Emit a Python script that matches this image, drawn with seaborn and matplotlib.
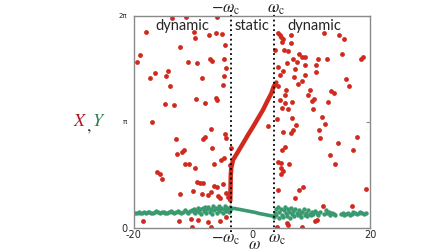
import matplotlib.pyplot as plt
import numpy as np
import seaborn as sns

sns.set_style('white')
plt.rcParams['mathtext.fontset'] = 'stix'

red = '#d02a1e'
green = '#3a9a6f'
omega_c = 3.6

# X in the dynamic (unlocked) regime: scattered points
x_dyn_w = [-17.92, -13.54, -11.17, -12.19, -18.94, -19.44, -10.89, -14.26, -16.41, -17.35, -14.65, -13.97, -14.82, -13.25,
           -6.04, -9.87, -9.65, -7.34, -6.21, -5.15, -4.64, -9.42, -7.17, -6.72, -4.81, -4.47, -8.41, -4.69, -4.93,
           -9.54, -8.07, -6.16, -5.94,
           4.42, 4.69, 4.86, 5.27, 5.10, 6.55, 6.55, 3.85, 5.43, 5.99, 7.97, 8.47, 8.91, 6.95, 5.82, 7.51, 4.42,
           5.27, 8.91, 7.22, 10.72, 4.69, 8.91, 7.12, 8.35, 7.68, 4.30, 5.70, 5.54, 9.76, 9.37, 10.16, 4.69, 5.54,
           6.67, 4.98, 5.99, 4.14,
           12.19, 14.65, 15.49, 15.11, 18.36, 18.77, 11.05, 12.57, 10.72, 15.83, 16.34, 13.30, 13.87, 12.86, 10.50,
           10.33, 11.73,
           -16.96, -12.96, -11.56, -11.90, -12.69, -11.34, -10.77, -16.07, -15.66, -15.22, -12.29, -18.48, -12.46,
           -10.16, -10.33,
           -6.89, -8.02, -8.30, -4.64, -4.47, -6.72, -3.51, -4.81, -5.20, -6.50, -9.70, -3.80, -9.32, -8.86, -8.30,
           -6.50, -6.04, -4.93, -8.57, -7.46, -7.05, -5.77, -5.49, -4.35, -4.08, -10.09, -9.15, -7.46, -5.49, -4.35,
           -6.89,
           2.62, 6.67, 7.34, 6.95, 6.55, 5.27, 5.54, 5.10, 4.30, 4.86, 6.21, 4.86, 5.27, 4.86, 4.30, 8.64, 7.90,
           7.22, 5.82, 6.11, 4.14, 8.35, 10.89,
           12.29, 11.27, 11.44, 17.64, 14.43, 17.08, 13.13, 13.97, 19.32, 12.02, 16.79, 10.60]
x_dyn_val = [5.82, 6.22, 6.25, 5.36, 5.13, 4.93, 4.93, 4.65, 4.59, 4.45, 4.51, 4.21, 3.68, 3.65,
             6.26, 5.82, 5.62, 5.72, 5.79, 5.75, 5.42, 4.88, 5.00, 4.95, 5.00, 4.73, 4.44, 4.51, 4.25,
             3.81, 3.70, 3.86, 3.79,
             5.79, 5.72, 5.65, 5.59, 5.52, 5.72, 5.49, 5.26, 5.26, 5.23, 5.16, 5.06, 5.08, 5.00, 4.88, 4.93, 4.76,
             4.66, 4.83, 4.70, 4.83, 4.53, 4.53, 4.48, 4.34, 4.27, 4.21, 4.09, 3.94, 4.09, 3.94, 3.77, 3.79, 3.71,
             3.74, 3.55, 3.52, 3.24,
             5.79, 5.72, 5.59, 5.16, 5.00, 5.06, 5.00, 5.00, 4.63, 4.41, 4.21, 4.07, 4.01, 3.74, 3.81,
             3.52, 3.28,
             3.15, 2.64, 2.31, 2.26, 2.18, 1.89, 1.90, 1.67, 1.59, 1.45, 1.01, 0.21, 0.21,
             0.02, 0.27,
             2.93, 2.71, 2.64, 2.78, 2.66, 2.38, 2.38, 2.07, 2.02, 1.89, 1.79, 1.87, 1.35, 1.32, 1.32,
             1.25, 1.22, 1.30, 1.00, 0.98, 1.06, 0.96, 0.88, 1.03, 0.93, 1.10, 0.24, 0.17, 0.21, 0.33,
             0.03,
             3.03, 3.27, 3.05, 2.90, 2.81, 2.84, 2.41, 2.31, 1.97, 1.92, 1.89, 1.77, 1.69, 1.59, 1.13, 1.22, 1.13,
             0.88, 0.14, 0.09, 0.02, 0.02, 0.24,
             3.07, 2.90, 2.66, 2.71, 2.51, 2.31, 2.16, 1.89, 1.16, 0.66, 0.66, 0.21]

# X on the locked (static) branch
x_lock_w = [-3.71, -3.71, -3.66, -3.63, -3.54, -3.24, -2.40, -1.55, -0.71, 0.14, 0.98, 1.82, 2.50, 3.24, 3.63, 4.08]
x_lock_val = [0.65, 0.98, 1.27, 1.57, 1.78, 2.02, 2.26, 2.51, 2.76, 3.00, 3.25, 3.50, 3.74, 3.99, 4.19, 4.31]

# Y in the dynamic regime
y_dyn_w = [-19.8, -19.5, -19.2, -18.9, -18.6, -18.3, -18.0, -17.7, -17.4, -17.1, -16.8, -16.5, -16.2, -15.9,
           -15.6, -15.3, -15.0, -14.7, -14.4, -14.1, -13.8, -13.5, -13.2, -12.9, -12.6, -12.3, -12.0, -11.7,
           -11.4, -11.1, -10.8, -10.5, -10.2,
           -9.9, -9.8, -9.6, -9.4, -9.2, -9.0, -8.8, -8.6, -8.4, -8.2, -8.0, -7.8, -7.6, -7.4, -7.2, -7.0, -6.8,
           -6.6, -6.4, -6.2, -6.0, -5.8, -5.6, -5.4, -5.2, -5.0, -4.8, -4.6, -4.4, -4.2, -4.0, -3.8, -3.7,
           3.7, 3.8, 4.0, 4.1, 4.3, 4.5, 4.6, 4.8, 5.0, 5.2, 5.3, 5.5, 5.7, 5.9, 6.0, 6.2, 6.4, 6.6, 6.7, 6.9,
           7.1, 7.3, 7.5, 7.7, 7.9, 8.1, 8.3, 8.5, 8.7, 8.9, 9.1, 9.3, 9.5, 9.7, 9.9, 10.1,
           10.3, 10.6, 10.9, 11.2, 11.5, 12.2, 12.5, 12.7, 13.0, 13.2, 13.5, 13.8, 14.0, 15.0, 15.3, 15.6,
           15.9, 16.2, 16.5, 16.8, 17.1, 17.4, 17.7, 18.0, 18.3, 18.6, 18.9, 19.2]
y_dyn_val = [0.46, 0.45, 0.47, 0.44, 0.46, 0.48, 0.45, 0.47, 0.49, 0.46, 0.44, 0.47, 0.50, 0.48,
             0.45, 0.47, 0.49, 0.46, 0.44, 0.47, 0.50, 0.48, 0.46, 0.49, 0.51, 0.47, 0.45, 0.48,
             0.52, 0.49, 0.46, 0.50, 0.53,
             0.48, 0.57, 0.44, 0.52, 0.60, 0.47, 0.55, 0.42, 0.58, 0.50, 0.63, 0.45, 0.55, 0.61, 0.49, 0.57, 0.43,
             0.64, 0.52, 0.59, 0.46, 0.55, 0.66, 0.50, 0.60, 0.44, 0.56, 0.64, 0.51, 0.59, 0.47, 0.62, 0.54,
             0.32, 0.46, 0.55, 0.38, 0.62, 0.30, 0.48, 0.57, 0.40, 0.33, 0.52, 0.61, 0.44, 0.36, 0.55, 0.47,
             0.31, 0.58, 0.41, 0.50,
             0.35, 0.56, 0.45, 0.38, 0.53, 0.42, 0.33, 0.49, 0.56, 0.40, 0.46, 0.36, 0.52, 0.43, 0.39, 0.48,
             0.42, 0.50, 0.45, 0.38, 0.47, 0.41, 0.52, 0.44, 0.48, 0.40, 0.46, 0.43, 0.39, 0.41, 0.44, 0.38,
             0.42, 0.45, 0.40, 0.43, 0.47, 0.44, 0.41, 0.45, 0.48, 0.44, 0.41, 0.46]

# Y on the locked branch
y_lock_w = [-3.6, -3.0, -2.4, -1.8, -1.2, -0.6, 0.0, 0.6, 1.2, 1.8, 2.4, 3.0, 3.6]
y_lock_val = [0.58, 0.58, 0.56, 0.54, 0.52, 0.50, 0.48, 0.46, 0.43, 0.41, 0.39, 0.37, 0.35]

fig, ax = plt.subplots(figsize=(4.48, 2.52), dpi=100)
fig.subplots_adjust(left=0.299, right=0.827, bottom=0.095, top=0.937)

sns.scatterplot(x=y_dyn_w, y=y_dyn_val, color=green, s=10, linewidth=0, ax=ax)
sns.lineplot(x=y_lock_w, y=y_lock_val, color=green, lw=2.6, ax=ax)
sns.lineplot(x=x_lock_w, y=x_lock_val, color=red, lw=3.2, sort=False, ax=ax)
sns.scatterplot(x=x_dyn_w, y=x_dyn_val, color=red, s=12, linewidth=0, ax=ax)

ax.set_xlim(-20, 20)
ax.set_ylim(0, 2 * np.pi)

for w in (-omega_c, omega_c):
    ax.plot([w, w], [-0.12, 2 * np.pi + 0.27], ls=':', color='k', lw=1.3, clip_on=False)

for side in ax.spines.values():
    side.set_color('#8a8a8a')
    side.set_linewidth(1.0)

ax.set_xticks([-20, 0, 20])
ax.set_xticklabels(['-20', '0', '20'], fontsize=7)
ax.set_yticks([0, np.pi, 2 * np.pi])
ax.set_yticklabels(['0', 'π', '2π'])
ax.tick_params(direction='in', length=3, color='#8a8a8a', right=True, pad=1.5)
ax.tick_params(axis='y', pad=5)
ylabs = ax.get_yticklabels()
ylabs[0].set_fontsize(7)
ylabs[1].set_fontsize(5)
ylabs[2].set_fontsize(5)
ax.set_xlabel('')
ax.set_ylabel('')

# regime labels
for x, s in [(-11.8, 'dynamic'), (0.0, 'static'), (10.5, 'dynamic')]:
    ax.text(x, 5.98, s, ha='center', va='center', fontsize=10.5, family='Lato')

# critical frequency markers
tf = ax.get_xaxis_transform()
ax.text(-omega_c - 0.9, 1.016, r'$-\omega_{\rm c}$', transform=tf, ha='center', va='baseline', fontsize=12, clip_on=False)
ax.text(omega_c + 0.5, 1.016, r'$\omega_{\rm c}$', transform=tf, ha='center', va='baseline', fontsize=12, clip_on=False)
ax.text(-omega_c - 0.9, -0.07, r'$-\omega_{\rm c}$', transform=tf, ha='center', va='baseline', fontsize=12, clip_on=False)
ax.text(omega_c + 0.6, -0.07, r'$\omega_{\rm c}$', transform=tf, ha='center', va='baseline', fontsize=12, clip_on=False)
ax.text(0.4, -0.1, r'$\omega$', transform=tf, ha='center', va='baseline', fontsize=12, clip_on=False)

# axis label X, Y
ax.text(-0.228, 0.505, r'$X$', transform=ax.transAxes, ha='center', va='center', fontsize=13, color='#b0161a')
ax.text(-0.19, 0.48, r'$,$', transform=ax.transAxes, ha='center', va='center', fontsize=13, color='#333333')
ax.text(-0.148, 0.505, r'$Y$', transform=ax.transAxes, ha='center', va='center', fontsize=13, color='#2e8050')

fig.savefig('out.png', dpi=100)
